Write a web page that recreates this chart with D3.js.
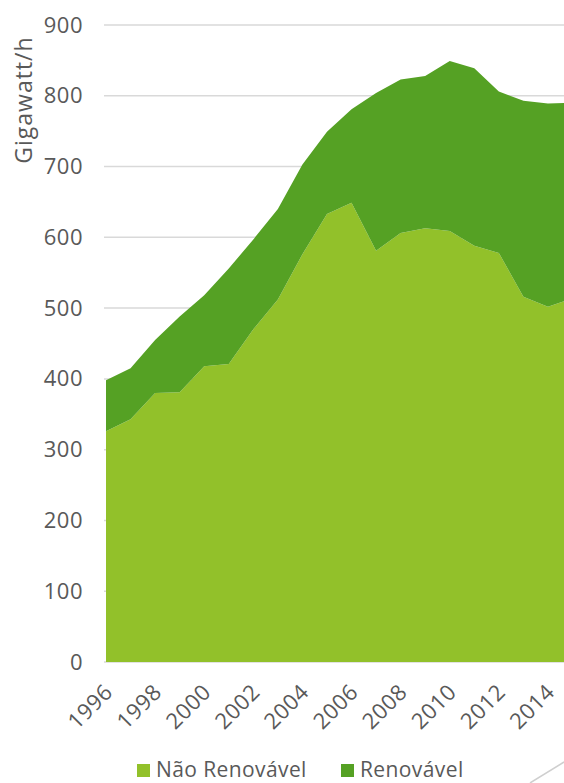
<!DOCTYPE html>
<html>
<head>
<meta charset="utf-8">
<script src="https://cdn.jsdelivr.net/npm/d3@7"></script>
<style>
  html, body { margin: 0; padding: 0; background: #fff; }
  svg { display: block; }
  text { font-family: "Open Sans", "DejaVu Sans", sans-serif; fill: #595959; }
</style>
</head>
<body>
<svg id="chart" width="564" height="783"></svg>
<script>
const years = [1996,1997,1998,1999,2000,2001,2002,2003,2004,2005,2006,2007,2008,2009,2010,2011,2012,2013,2014,2015];
const naoRenovavel = [326,343,380,381,418,421,470,512,576,633,649,581,606,613,609,588,578,516,502,514];
const totalGeracao = [398,415,455,488,518,556,597,640,703,749,781,804,823,828,849,839,806,793,789,790];
const renovavel = totalGeracao.map((t, i) => t - naoRenovavel[i]);
const yTicks = [0,100,200,300,400,500,600,700,800,900];
const xTickYears = [1996,1998,2000,2002,2004,2006,2008,2010,2012,2014];
const seriesNames = ["Não Renovável", "Renovável"];
const colors = ["#92c12a", "#55a124"];
const yLabel = "Gigawatt/h";

const FONT = '"Open Sans", "DejaVu Sans", sans-serif';
const svg = d3.select("#chart");
const x = d3.scaleLinear().domain([1996, 2015]).range([106, 572.5]);
const y = d3.scaleLinear().domain([0, 900]).range([662, 25]);

// gridlines
svg.append("g").selectAll("line").data(yTicks).join("line")
  .attr("x1", 104).attr("x2", 564)
  .attr("y1", d => y(d)).attr("y2", d => y(d))
  .attr("stroke", "#d9d9d9").attr("stroke-width", 1.5);

// stacked data
const table = years.map((yr, i) => ({year: yr, nao: naoRenovavel[i], ren: renovavel[i]}));
const stack = d3.stack().keys(["nao", "ren"]);
const layers = stack(table);
const area = d3.area()
  .x(d => x(d.data.year))
  .y0(d => y(d[0]))
  .y1(d => y(d[1]));

svg.append("g").selectAll("path").data(layers).join("path")
  .attr("d", area)
  .attr("fill", (d, i) => colors[i]);

// y axis labels
const yAxis = d3.axisLeft(y).tickValues(yTicks).tickSize(0).tickPadding(0);
const gy = svg.append("g").attr("transform", "translate(83,0)").call(yAxis);
gy.select(".domain").remove();
gy.selectAll("text").attr("font-size", 22).attr("fill", "#595959")
  .style("font-family", FONT).attr("letter-spacing", 0.5);

// x axis labels
const xAxis = d3.axisBottom(x).tickValues(xTickYears).tickFormat(d3.format("d")).tickSize(0);
const gx = svg.append("g").attr("transform", "translate(0,662)").call(xAxis);
gx.select(".domain").remove();
gx.selectAll("text")
  .attr("font-size", 22).attr("fill", "#595959")
  .style("font-family", FONT)
  .attr("letter-spacing", 0.5)
  .attr("text-anchor", "end")
  .attr("x", 0).attr("y", 0).attr("dy", "0.35em")
  .attr("transform", "translate(2,26) rotate(-45)");

// y axis title
svg.append("text")
  .attr("transform", "translate(24,100) rotate(-90)")
  .attr("text-anchor", "middle")
  .attr("dy", "0.35em")
  .attr("font-size", 23)
  .attr("letter-spacing", 1)
  .text(yLabel);

// legend
const legendItems = [{name: seriesNames[0], color: colors[0], x: 137}, {name: seriesNames[1], color: colors[1], x: 341}];
const lg = svg.append("g").selectAll("g").data(legendItems).join("g")
  .attr("transform", d => `translate(${d.x},764)`);
lg.append("rect").attr("width", 13).attr("height", 13).attr("fill", d => d.color);
lg.append("text").attr("x", 19).attr("y", 6).attr("dy", "0.35em")
  .attr("font-size", 21).attr("letter-spacing", 0.4).text(d => d.name);

// decorative corner line
svg.append("line").attr("x1", 530).attr("y1", 783).attr("x2", 564).attr("y2", 762)
  .attr("stroke", "#cfcfcf").attr("stroke-width", 1.5);
</script>
</body>
</html>
